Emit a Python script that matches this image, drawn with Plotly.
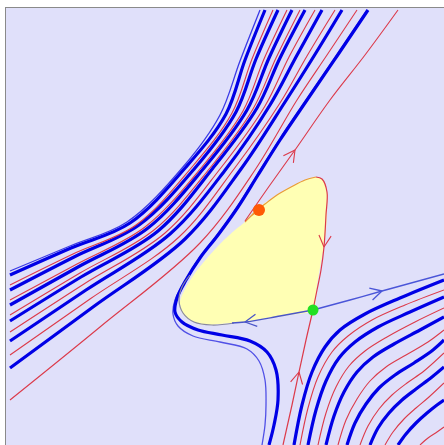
import numpy as np
import plotly.graph_objects as go

# ---------------- data (pixel-like phase-plane units) ----------------
# upper-left family: each curve runs from the left edge to the top edge
UL_X = [
    [10, 100, 200, 255, 297, 327, 357],
    [10, 93, 185, 241, 285, 314, 342],
    [10, 90, 179, 234, 280, 307, 335],
    [10, 86, 170, 226, 270, 296, 322],
    [10, 84, 165, 220, 265, 289, 315],
    [10, 81, 158, 213, 257, 280, 305],
    [10, 80, 154, 210, 253, 276, 300],
    [10, 78, 148, 204, 247, 269, 292],
    [10, 77, 145, 201, 243, 264, 287],
    [10, 74, 139, 195, 236, 256, 278],
    [10, 73, 136, 192, 232, 252, 273],
    [10, 71, 130, 186, 226, 245, 265],
    [10, 70, 127, 183, 220, 240, 260],
]
UL_Y = [
    [400, 327, 243, 170, 100, 55, 10],
    [368, 307, 239, 169, 102, 56, 10],
    [355, 299, 237, 169, 103, 56, 10],
    [341, 290, 234, 169, 105, 57, 10],
    [332, 284, 233, 169, 106, 57, 10],
    [321, 277, 231, 168, 108, 58, 10],
    [315, 273, 230, 168, 109, 58, 10],
    [305, 267, 228, 168, 110, 58, 10],
    [300, 264, 227, 168, 111, 59, 10],
    [290, 257, 225, 168, 112, 59, 10],
    [285, 254, 225, 167, 113, 59, 10],
    [275, 248, 223, 167, 114, 60, 10],
    [271, 246, 222, 167, 115, 61, 10],
]
UL_KIND = ["red", "thick", "red", "thick", "red", "thick", "red",
           "thick", "red", "thick", "red", "thick", "thin"]

# lower-right family: each curve runs from the bottom edge to the right edge
LR_X = [
    [294, 302, 312, 325, 340, 365, 400, 444],
    [300, 308, 318, 332, 348, 372, 405, 444],
    [308, 316, 326, 339, 355, 378, 410, 444],
    [318, 326, 336, 349, 365, 387, 415, 444],
    [326, 334, 344, 357, 373, 394, 420, 444],
    [338, 346, 357, 370, 386, 406, 428, 444],
    [347, 355, 366, 379, 395, 414, 433, 444],
    [360, 368, 379, 392, 407, 424, 444],
    [370, 378, 389, 402, 416, 432, 444],
    [385, 393, 404, 416, 429, 444],
    [398, 406, 416, 427, 437, 444],
    [420, 428, 437, 444],
]
LR_Y = [
    [445, 405, 372, 347, 330, 314, 298, 280],
    [445, 408, 377, 352, 336, 320, 305, 290],
    [445, 410, 381, 358, 342, 327, 312, 297],
    [445, 413, 387, 366, 351, 337, 322, 308],
    [445, 416, 392, 372, 357, 344, 330, 317],
    [445, 420, 399, 381, 367, 355, 342, 330],
    [445, 423, 404, 388, 375, 363, 350, 340],
    [445, 426, 409, 395, 383, 371, 353],
    [445, 428, 413, 400, 389, 377, 367],
    [445, 432, 419, 408, 397, 383],
    [445, 434, 423, 413, 405, 400],
    [445, 438, 432, 427],
]
LR_KIND = ["thick", "red", "thick", "red", "thick", "red", "thick",
           "red", "thick", "red", "thick", "red"]

# thick orbit wrapping around the loop, and its thin companion
WRAP_X = [368, 337, 307, 280, 258, 238, 218, 200, 186, 177, 175, 182, 198, 222, 250, 267, 276, 278, 274, 269]
WRAP_Y = [10, 56, 100, 140, 175, 207, 235, 258, 280, 298, 312, 322, 330, 335, 341, 352, 370, 400, 425, 445]
WRAP2_X = [367, 336, 306, 279, 257, 237, 217, 199, 185, 175, 173, 178, 193, 220, 247, 259, 265, 266, 265, 262]
WRAP2_Y = [10, 56, 100, 140, 175, 207, 235, 258, 281, 300, 314, 326, 336, 342, 349, 361, 380, 405, 425, 445]

# separatrices
OUT_RED_X = [245, 270, 295, 330, 365, 398]          # leaves the loop tip, arrow up-right
OUT_RED_Y = [221, 185, 150, 100, 55, 10]
LOOP_ORANGE_X = [258, 250, 245, 249, 256, 265, 277, 291, 305, 316]
LOOP_ORANGE_Y = [211, 217, 222, 218, 211, 204, 195, 187, 180, 177]
LOOP_RED_X = [316, 322, 327, 326, 324, 321, 317, 313]  # right side of loop, down to saddle
LOOP_RED_Y = [177, 179, 192, 215, 247, 270, 290, 310]
STABLE_RED_X = [283, 292, 299, 306, 313]            # from bottom up into the saddle
STABLE_RED_Y = [445, 405, 372, 340, 310]
UNSTABLE_R_X = [313, 350, 382, 444]
UNSTABLE_R_Y = [310, 300, 291, 274]
UNSTABLE_L_X = [313, 280, 245, 232]
UNSTABLE_L_Y = [310, 316, 322, 323]
GRAY_X = [234, 212, 194, 183, 179, 182, 190]
GRAY_Y = [323, 325, 322, 313, 300, 287, 275]

# shaded region inside the loop
YEL_X = [245, 252, 262, 275, 290, 305, 316, 323, 327, 327, 325, 321, 317, 313,
         290, 265, 245, 220, 205, 192, 183, 180, 185, 195, 208, 222, 235, 245]
YEL_Y = [222, 214, 205, 196, 187, 180, 177, 180, 192, 215, 240, 262, 285, 310,
         315, 319, 322, 324, 325, 321, 314, 302, 289, 273, 257, 242, 230, 222]

# equilibria
FOCUS = (259, 210)
SADDLE = (313, 310)

# ---------------- styling ----------------
BG = "#e0e0fa"
BLUE = "#0000e6"
THINBLUE = "#3a3ae6"
RED = "#dc3a4a"
ORANGE = "#e89a3a"
STYLE = {"red": (RED, 1.1), "thick": (BLUE, 3.2), "thin": (THINBLUE, 1.3)}

fig = go.Figure()


def add_line(xs, ys, color, width):
    fig.add_trace(go.Scatter(
        x=xs, y=ys, mode="lines",
        line=dict(color=color, width=width, shape="spline", smoothing=1.0),
        hoverinfo="skip", showlegend=False))


def add_arrow(xs, ys, i, color, width, length=13.0, half_angle=28.0):
    p = np.array([xs[i], ys[i]], float)
    d = np.array([xs[i + 1] - xs[i - 1], ys[i + 1] - ys[i - 1]], float)
    d /= np.linalg.norm(d)
    back = -d
    pts = []
    for a in (half_angle, -half_angle):
        t = np.radians(a)
        r = np.array([back[0] * np.cos(t) - back[1] * np.sin(t),
                      back[0] * np.sin(t) + back[1] * np.cos(t)])
        pts.append(p + length * r)
    fig.add_trace(go.Scatter(
        x=[pts[0][0], p[0], pts[1][0]], y=[pts[0][1], p[1], pts[1][1]],
        mode="lines", line=dict(color=color, width=width),
        hoverinfo="skip", showlegend=False))


# yellow region
fig.add_trace(go.Scatter(
    x=YEL_X, y=YEL_Y, mode="lines", fill="toself", fillcolor="#ffffb4",
    line=dict(width=0, shape="spline", smoothing=0.8),
    hoverinfo="skip", showlegend=False))

# families
for xs, ys, k in zip(UL_X, UL_Y, UL_KIND):
    c, w = STYLE[k]
    add_line(xs, ys, c, w)
for xs, ys, k in zip(LR_X, LR_Y, LR_KIND):
    c, w = STYLE[k]
    add_line(xs, ys, c, w)

add_line(WRAP2_X, WRAP2_Y, "#5050e6", 1.3)
add_line(WRAP_X, WRAP_Y, BLUE, 3.2)

# separatrices and loop boundary
add_line(GRAY_X, GRAY_Y, "#8888a0", 1.2)
add_line(UNSTABLE_L_X, UNSTABLE_L_Y, "#4a55c8", 1.3)
add_line(UNSTABLE_R_X, UNSTABLE_R_Y, "#4a55d8", 1.3)
add_line(STABLE_RED_X, STABLE_RED_Y, RED, 1.2)
add_line(LOOP_RED_X, LOOP_RED_Y, RED, 1.2)
add_line(LOOP_ORANGE_X, LOOP_ORANGE_Y, ORANGE, 1.2)
add_line(OUT_RED_X, OUT_RED_Y, RED, 1.1)

# arrowheads
add_arrow(OUT_RED_X, OUT_RED_Y, 2, RED, 1.1)
add_arrow(LOOP_RED_X, LOOP_RED_Y, 4, RED, 1.1)
add_arrow(STABLE_RED_X, STABLE_RED_Y, 2, RED, 1.1)
add_arrow(UNSTABLE_R_X, UNSTABLE_R_Y, 2, "#4a55d8", 1.3)
add_arrow(UNSTABLE_L_X, UNSTABLE_L_Y, 2, "#4a55c8", 1.3)

# equilibria
fig.add_trace(go.Scatter(x=[FOCUS[0]], y=[FOCUS[1]], mode="markers",
                         marker=dict(size=12, color="#ff5a05"),
                         hoverinfo="skip", showlegend=False))
fig.add_trace(go.Scatter(x=[SADDLE[0]], y=[SADDLE[1]], mode="markers",
                         marker=dict(size=11, color="#22e022"),
                         hoverinfo="skip", showlegend=False))

fig.update_layout(
    width=444, height=445,
    margin=dict(l=6, r=0, t=8, b=0),
    paper_bgcolor="white", plot_bgcolor=BG,
    hovermode=False,
    xaxis=dict(range=[6, 444], showgrid=False, zeroline=False, showticklabels=False,
               ticks="", showline=True, linecolor="#8a8a8a", linewidth=1, side="top",
               fixedrange=True),
    yaxis=dict(range=[445, 8], showgrid=False, zeroline=False, showticklabels=False,
               ticks="", showline=True, linecolor="#8a8a8a", linewidth=1,
               fixedrange=True),
)

fig.write_html("out.html",
               config={"displayModeBar": False, "staticPlot": True},
               post_script="document.body.style.margin='0px';document.body.style.overflow='hidden';")
